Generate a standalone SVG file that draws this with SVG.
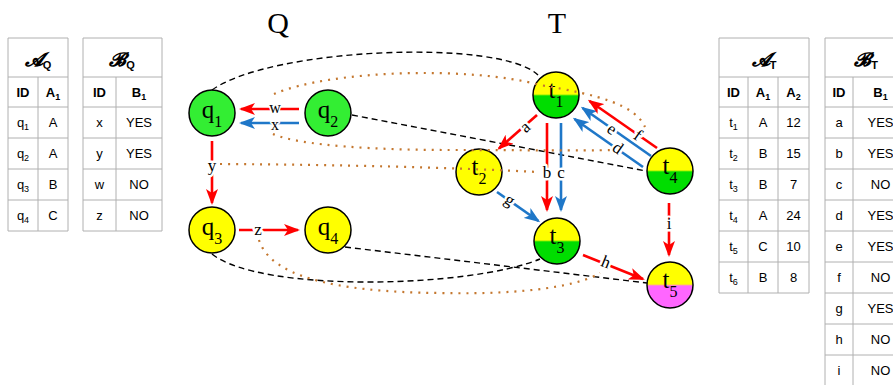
<svg xmlns="http://www.w3.org/2000/svg" width="893" height="385" viewBox="0 0 893 385">
  <style>
    .grid { stroke: #b0b0b0; stroke-width: 1; fill: none; }
    .cell { font-family: "Liberation Sans", Arial, sans-serif; font-size: 13px; text-anchor: middle; fill: #000; }
    .hdr { font-weight: bold; }
    .cs { font-size: 9px; }
    .ttl { font-family: "DejaVu Serif", "Noto Sans", serif; font-size: 19px; font-weight: bold; font-style: italic; text-anchor: middle; }
    .ttls { font-family: "Liberation Sans", Arial, sans-serif; font-size: 11px; font-weight: bold; font-style: normal; }
    .big { font-family: "Liberation Serif", "Times New Roman", serif; font-size: 30px; text-anchor: middle; }
    .node circle { stroke: #000; stroke-width: 1.5; }
    .nl { font-family: "Liberation Serif", "Times New Roman", serif; font-size: 25px; text-anchor: middle; fill: #000; }
    .ns { font-size: 16px; }
    .dash { fill: none; stroke: #000; stroke-width: 1.4; stroke-dasharray: 6 4; }
    .dot { fill: none; stroke: #c4772f; stroke-width: 2.2; stroke-dasharray: 2 6; }
    .red { stroke: #ff0000; stroke-width: 2.6; fill: none; marker-end: url(#arR); }
    .blue { stroke: #1f77c8; stroke-width: 2.6; fill: none; marker-end: url(#arB); }
    .el { font-family: "Liberation Serif", "Times New Roman", serif; font-size: 17px; text-anchor: middle; dominant-baseline: central; fill: #000; stroke: #fff; stroke-width: 5; paint-order: stroke; stroke-linejoin: round; }
    .el2 { font-size: 16px; stroke-width: 3; }
  </style>
  <defs>
    <marker id="arR" viewBox="0 0 16 12" refX="14" refY="6" markerWidth="16" markerHeight="12" markerUnits="userSpaceOnUse" orient="auto">
      <path d="M0,0 L16,6 L0,12 L4,6 Z" fill="#ff0000"/>
    </marker>
    <marker id="arB" viewBox="0 0 16 12" refX="14" refY="6" markerWidth="16" markerHeight="12" markerUnits="userSpaceOnUse" orient="auto">
      <path d="M0,0 L16,6 L0,12 L4,6 Z" fill="#1f77c8"/>
    </marker>
    <linearGradient id="yg" x1="0" y1="0" x2="0" y2="1">
      <stop offset="0.48" stop-color="#ffff00"/>
      <stop offset="0.52" stop-color="#00dd00"/>
    </linearGradient>
    <linearGradient id="ym" x1="0" y1="0" x2="0" y2="1">
      <stop offset="0.48" stop-color="#ffff00"/>
      <stop offset="0.52" stop-color="#ff66ff"/>
    </linearGradient>
  </defs>

  <rect width="893" height="385" fill="#fff"/>

  <!-- table A_Q -->
  <g id="table-AQ">
    <path class="grid" d="M8,38 H68 V231 H8 Z M8,77 H68 M8,107 H68 M8,138 H68 M8,169 H68 M8,200 H68 M38,77 V231"/>
    <text class="ttl" x="38" y="66">𝓐<tspan class="ttls" dy="3">Q</tspan></text>
    <text class="cell hdr" x="23" y="97">ID</text>
    <text class="cell hdr" x="53" y="97">A<tspan class="cs" dy="3">1</tspan></text>
    <text class="cell" x="23" y="127">q<tspan class="cs" dy="3">1</tspan></text>
    <text class="cell" x="53" y="127">A</text>
    <text class="cell" x="23" y="158">q<tspan class="cs" dy="3">2</tspan></text>
    <text class="cell" x="53" y="158">A</text>
    <text class="cell" x="23" y="189">q<tspan class="cs" dy="3">3</tspan></text>
    <text class="cell" x="53" y="189">B</text>
    <text class="cell" x="23" y="220">q<tspan class="cs" dy="3">4</tspan></text>
    <text class="cell" x="53" y="220">C</text>
  </g>

  <!-- table B_Q -->
  <g id="table-BQ">
    <path class="grid" d="M83,38 H162 V231 H83 Z M83,77 H162 M83,107 H162 M83,138 H162 M83,169 H162 M83,200 H162 M116,77 V231"/>
    <text class="ttl" x="122" y="66">𝓑<tspan class="ttls" dy="3">Q</tspan></text>
    <text class="cell hdr" x="99.5" y="97">ID</text>
    <text class="cell hdr" x="139" y="97">B<tspan class="cs" dy="3">1</tspan></text>
    <text class="cell" x="99.5" y="127">x</text>
    <text class="cell" x="139" y="127">YES</text>
    <text class="cell" x="99.5" y="158">y</text>
    <text class="cell" x="139" y="158">YES</text>
    <text class="cell" x="99.5" y="189">w</text>
    <text class="cell" x="139" y="189">NO</text>
    <text class="cell" x="99.5" y="220">z</text>
    <text class="cell" x="139" y="220">NO</text>
  </g>

  <!-- table A_T -->
  <g id="table-AT">
    <path class="grid" d="M719,38 H809 V293 H719 Z M719,77 H809 M719,107 H809 M719,138 H809 M719,169 H809 M719,200 H809 M719,231 H809 M719,262 H809 M748,77 V293 M778,77 V293"/>
    <text class="ttl" x="764" y="66">𝓐<tspan class="ttls" dy="3">T</tspan></text>
    <text class="cell hdr" x="733.5" y="97">ID</text>
    <text class="cell hdr" x="763" y="97">A<tspan class="cs" dy="3">1</tspan></text>
    <text class="cell hdr" x="793.5" y="97">A<tspan class="cs" dy="3">2</tspan></text>
    <text class="cell" x="733.5" y="127">t<tspan class="cs" dy="3">1</tspan></text>
    <text class="cell" x="763" y="127">A</text>
    <text class="cell" x="793.5" y="127">12</text>
    <text class="cell" x="733.5" y="158">t<tspan class="cs" dy="3">2</tspan></text>
    <text class="cell" x="763" y="158">B</text>
    <text class="cell" x="793.5" y="158">15</text>
    <text class="cell" x="733.5" y="189">t<tspan class="cs" dy="3">3</tspan></text>
    <text class="cell" x="763" y="189">B</text>
    <text class="cell" x="793.5" y="189">7</text>
    <text class="cell" x="733.5" y="220">t<tspan class="cs" dy="3">4</tspan></text>
    <text class="cell" x="763" y="220">A</text>
    <text class="cell" x="793.5" y="220">24</text>
    <text class="cell" x="733.5" y="251">t<tspan class="cs" dy="3">5</tspan></text>
    <text class="cell" x="763" y="251">C</text>
    <text class="cell" x="793.5" y="251">10</text>
    <text class="cell" x="733.5" y="282">t<tspan class="cs" dy="3">6</tspan></text>
    <text class="cell" x="763" y="282">B</text>
    <text class="cell" x="793.5" y="282">8</text>
  </g>

  <!-- table B_T (runs past the right and bottom edges) -->
  <g id="table-BT">
    <path class="grid" d="M825,38 H908 V386 H825 Z M825,77 H908 M825,107 H908 M825,138 H908 M825,169 H908 M825,200 H908 M825,231 H908 M825,262 H908 M825,293 H908 M825,324 H908 M825,355 H908 M853,77 V386"/>
    <text class="ttl" x="866" y="66">𝓑<tspan class="ttls" dy="3">T</tspan></text>
    <text class="cell hdr" x="839" y="97">ID</text>
    <text class="cell hdr" x="880.5" y="97">B<tspan class="cs" dy="3">1</tspan></text>
    <text class="cell" x="839" y="127">a</text>
    <text class="cell" x="880.5" y="127">YES</text>
    <text class="cell" x="839" y="158">b</text>
    <text class="cell" x="880.5" y="158">YES</text>
    <text class="cell" x="839" y="189">c</text>
    <text class="cell" x="880.5" y="189">NO</text>
    <text class="cell" x="839" y="220">d</text>
    <text class="cell" x="880.5" y="220">YES</text>
    <text class="cell" x="839" y="251">e</text>
    <text class="cell" x="880.5" y="251">YES</text>
    <text class="cell" x="839" y="282">f</text>
    <text class="cell" x="880.5" y="282">NO</text>
    <text class="cell" x="839" y="313">g</text>
    <text class="cell" x="880.5" y="313">YES</text>
    <text class="cell" x="839" y="344">h</text>
    <text class="cell" x="880.5" y="344">NO</text>
    <text class="cell" x="839" y="375">i</text>
    <text class="cell" x="880.5" y="375">NO</text>
  </g>

  <!-- graph titles -->
  <text class="big" x="278" y="33">Q</text>
  <text class="big" x="557" y="33">T</text>

  <!-- nodes of Q -->
  <g id="q1" class="node"><circle cx="212" cy="113" r="23" fill="#33ee33"/><text class="nl" x="212" y="118">q<tspan class="ns" dy="9">1</tspan></text></g>
  <g id="q2" class="node"><circle cx="328" cy="113" r="23" fill="#33ee33"/><text class="nl" x="328" y="118">q<tspan class="ns" dy="9">2</tspan></text></g>
  <g id="q3" class="node"><circle cx="212" cy="230" r="23" fill="#ffff00"/><text class="nl" x="212" y="235">q<tspan class="ns" dy="9">3</tspan></text></g>
  <g id="q4" class="node"><circle cx="328" cy="230" r="23" fill="#ffff00"/><text class="nl" x="328" y="235">q<tspan class="ns" dy="9">4</tspan></text></g>

  <!-- nodes of T -->
  <g id="t1" class="node"><circle cx="556" cy="95" r="23" fill="url(#yg)"/><text class="nl" x="556" y="98">t<tspan class="ns" dy="9">1</tspan></text></g>
  <g id="t2" class="node"><circle cx="479" cy="172" r="23" fill="#ffff00"/><text class="nl" x="479" y="175">t<tspan class="ns" dy="9">2</tspan></text></g>
  <g id="t3" class="node"><circle cx="557" cy="241" r="23" fill="url(#yg)"/><text class="nl" x="557" y="244">t<tspan class="ns" dy="9">3</tspan></text></g>
  <g id="t4" class="node"><circle cx="670" cy="171" r="23" fill="url(#yg)"/><text class="nl" x="670" y="174">t<tspan class="ns" dy="9">4</tspan></text></g>
  <g id="t5" class="node"><circle cx="670" cy="285" r="23" fill="url(#ym)"/><text class="nl" x="670" y="288">t<tspan class="ns" dy="9">5</tspan></text></g>

  <g id="connectors">
    <!-- node correspondences -->
    <path class="dash" d="M212,90 C270,48 500,38 538,75"/>
    <path class="dash" d="M352,115 L646,171"/>
    <path class="dash" d="M212,254 C260,293 470,288 540,259"/>
    <path class="dash" d="M345,247 L647,283"/>

    <!-- edges of Q -->
    <line class="red" x1="299" y1="109" x2="241" y2="109"/>
    <line class="blue" x1="299" y1="123" x2="241" y2="123"/>
    <line class="red" x1="212" y1="141" x2="212" y2="203"/>
    <line class="red" x1="239" y1="230" x2="298" y2="230"/>

    <!-- edges of T -->
    <line class="red" x1="537" y1="115" x2="499" y2="148.5"/>
    <line class="red" x1="547" y1="123" x2="547" y2="210"/>
    <line class="blue" x1="561" y1="123" x2="561" y2="210"/>
    <line class="blue" x1="497" y1="192" x2="538.5" y2="221"/>
    <line class="red" x1="583" y1="255" x2="643" y2="279"/>
    <line class="red" x1="669" y1="203" x2="669" y2="255"/>
    <line class="blue" x1="643" y1="167" x2="574.5" y2="119"/>
    <line class="blue" x1="651" y1="156" x2="582.5" y2="108"/>
    <line class="red" x1="657" y1="148" x2="589.5" y2="101"/>

    <!-- edge labels -->
    <text class="el el2" x="275" y="107">w</text>
    <text class="el el2" x="275" y="124.5">x</text>
    <text class="el" x="212" y="165">y</text>
    <text class="el" x="258" y="229">z</text>
    <text class="el" transform="translate(525,127) rotate(-41)">a</text>
    <text class="el" x="547" y="172">b</text>
    <text class="el" x="561" y="172">c</text>
    <text class="el" transform="translate(510,200) rotate(35)">g</text>
    <text class="el" transform="translate(606,262) rotate(22)">h</text>
    <text class="el" x="669" y="223">i</text>
    <text class="el" transform="translate(618,148) rotate(35)">d</text>
    <text class="el" transform="translate(612,129) rotate(35)">e</text>
    <text class="el" transform="translate(638,135) rotate(35)">f</text>

    <!-- edge correspondences -->
    <path class="dot" d="M274,94 C330,70 470,66 540,85 C600,95 635,105 645,127"/>
    <path class="dot" d="M273,134 C300,146 380,150 450,150 S580,151 612,150"/>
    <path class="dot" d="M220,164 Q400,165 538,172"/>
    <path class="dot" d="M259,240 C270,275 330,292 440,293 C530,295 580,285 600,273"/>
  </g>
</svg>
